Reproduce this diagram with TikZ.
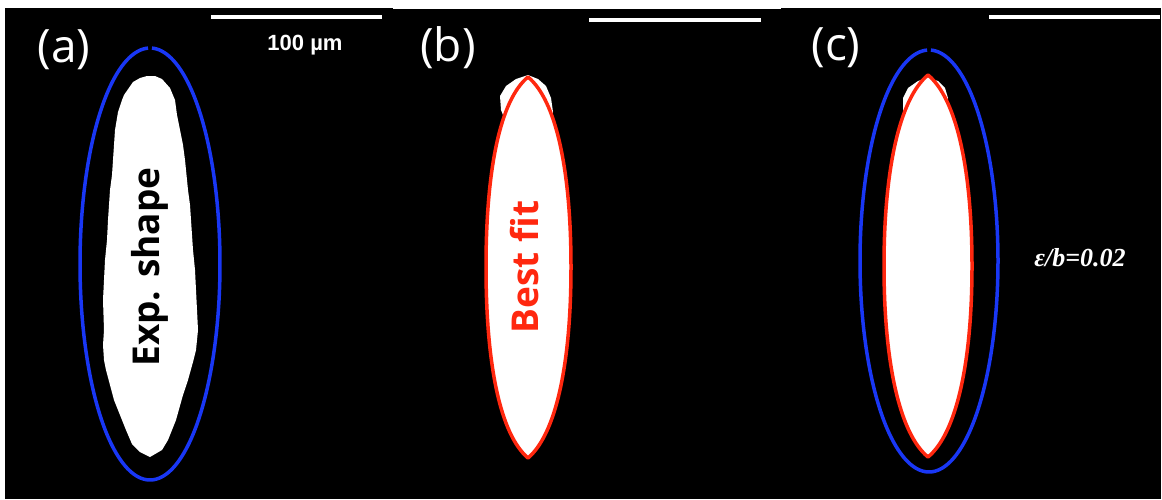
\documentclass[tikz,border=0pt]{standalone}
\usepackage{fontspec}
\setmainfont{Open Sans}
\newfontfamily\barfont{Liberation Sans}
\newfontfamily\ratiofont{Liberation Serif}
\usepackage{tikz}
\definecolor{expblue}{RGB}{25,55,245}
\definecolor{fitred}{RGB}{255,40,15}

\begin{document}
\begin{tikzpicture}[x=1pt, y=-1pt,
  panel/.style={fill=black},
  tag/.style={text=white, inner sep=0pt, font=\fontsize{46}{46}\selectfont},
  scalebar/.style={draw=white, line width=4pt},
  inlbl/.style={rotate=90, inner sep=0pt, font=\fontsize{37}{37}\selectfont\bfseries},
  outline/.style={line width=3.5pt, line join=round},
  blob/.style={fill=white}
]
\useasboundingbox[fill=white] (0,0) rectangle (1162,499);

% three black panels
\fill[panel] (5,8) rectangle (393,499);
\fill[panel] (393,9) rectangle (781,499);
\fill[panel] (781,8) rectangle (1161,499);

% panel labels
\node[tag] (tagA) at (64,50) {(a)};
\node[tag] (tagB) at (448,48) {(b)};
\node[tag] (tagC) at (836,48) {(c)};

% scale bars
\coordinate (barA1) at (211,17);
\coordinate (barA2) at (382,17);
\coordinate (barB1) at (589,20);
\coordinate (barB2) at (761,20);
\coordinate (barC1) at (989,17);
\coordinate (barC2) at (1160,17);
\draw[scalebar] (barA1) -- (barA2);
\draw[scalebar] (barB1) -- (barB2);
\draw[scalebar] (barC1) -- (barC2);
\node[text=white, font=\barfont\bfseries\fontsize{22}{22}\selectfont] (size) at (305,45) {100 µm};

% (a) experimental shape
\fill[blob] (147,76) -- (155,76) -- (162,79) -- (170,88) -- (175,100) -- (177,115) -- (180,130)
  -- (183,145) -- (185,160) -- (188,190) -- (190,205) -- (191,220) -- (193,250) -- (195,270)
  -- (196,290) -- (197,310) -- (198,330) -- (196,350) -- (193,362) -- (188,380) -- (183,395)
  -- (176,420) -- (168,440) -- (162,450) -- (150,457) -- (140,452) -- (132,444) -- (126,430)
  -- (120,415) -- (114,400) -- (110,385) -- (106,370) -- (104,360) -- (103,345) -- (104,330)
  -- (103,300) -- (104,280) -- (105,260) -- (107,240) -- (108,220) -- (110,190) -- (112,175)
  -- (113,160) -- (115,130) -- (118,112) -- (122,100) -- (124,95) -- (133,82) -- (140,78) -- cycle;
\draw[outline, expblue] plot[domain=-88.4:268.4, samples=180, smooth]
  ({150+70*cos(\x)}, {264+216*sin(\x)});
\node[inlbl, text=black] (expA) at (150,267) {Exp. shape};

% (b) best fit
\coordinate (topB) at (528,77);
\coordinate (botB) at (528,458);
\coordinate (leftB) at (486,267);
\coordinate (rightB) at (571,267);
\fill[blob] (528,75) -- (538,79) -- (546,86) -- (551,98) -- (553,112) -- (550,120)
  -- (505,120) -- (501,110) -- (500,96) -- (506,86) -- (516,79) -- cycle;
\draw[outline, fitred, fill=white] (topB) .. controls (500,100) and (486,170) .. (leftB)
  .. controls (486,364) and (500,434) .. (botB)
  .. controls (556,434) and (571,364) .. (rightB)
  .. controls (571,170) and (556,100) .. (topB) -- cycle;
\node[inlbl, text=fitred] (fitB) at (525,267) {Best fit};

% (c) both shapes
\coordinate (topC) at (928,75);
\coordinate (botC) at (928,457);
\coordinate (leftC) at (884,266);
\coordinate (rightC) at (972,266);
\fill[blob] (928,78) -- (938,81) -- (945,88) -- (948,98) -- (947,112) -- (944,120)
  -- (908,120) -- (903,110) -- (903,98) -- (908,88) -- (918,81) -- cycle;
\draw[outline, fitred, fill=white] (topC) .. controls (900,98) and (884,168) .. (leftC)
  .. controls (884,364) and (900,434) .. (botC)
  .. controls (956,434) and (972,364) .. (rightC)
  .. controls (972,168) and (956,98) .. (topC) -- cycle;
\draw[outline, expblue] plot[domain=-88.4:268.4, samples=180, smooth]
  ({929+69*cos(\x)}, {261+211*sin(\x)});
\node[text=white, font=\ratiofont\bfseries\itshape\fontsize{26}{26}\selectfont] (ratio) at (1080,258) {ε/b=0.02};
\end{tikzpicture}
\end{document}
